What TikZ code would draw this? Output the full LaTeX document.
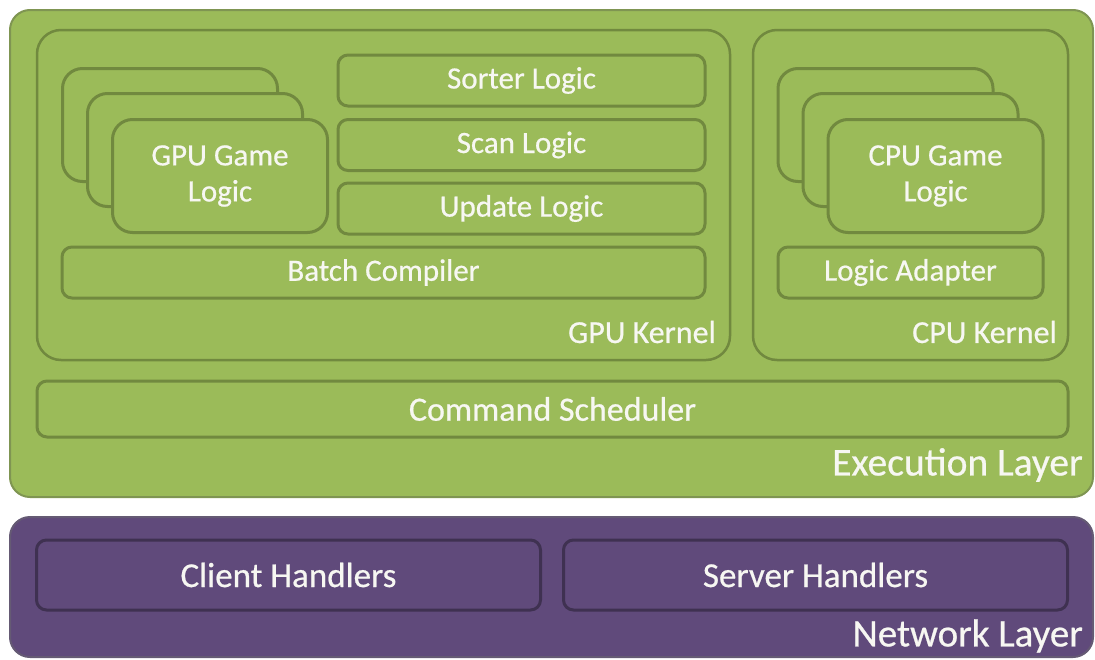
\documentclass[tikz,border=0pt]{standalone}
\usepackage{fontspec}
\setmainfont{Carlito}[FakeBold=0.6]
\usetikzlibrary{positioning}

\definecolor{execgreen}{HTML}{9BBB59}
\definecolor{execedge}{HTML}{71893F}
\definecolor{netpurple}{HTML}{604A7B}
\definecolor{netedge}{HTML}{3F3151}
\definecolor{labelwhite}{HTML}{F7F7F2}

\tikzset{
  layerbox/.style={rounded corners=20pt, line width=2pt, inner sep=0pt},
  kernelbox/.style={draw=execedge, line width=2.5pt, rounded corners=24pt, inner sep=0pt},
  unit/.style={draw=execedge, fill=execgreen, line width=3pt, rounded corners=10pt,
    inner sep=0pt, text=labelwhite, font=\fontsize{31}{36}\selectfont},
  gamebox/.style={unit, rounded corners=20pt, minimum width=215pt, minimum height=113pt, align=center},
  netunit/.style={unit, draw=netedge, fill=netpurple, minimum width=504pt, minimum height=70pt,
    font=\fontsize{35}{40}\selectfont},
  tag/.style={anchor=east, inner sep=0pt, text=labelwhite},
}

\begin{document}
\begin{tikzpicture}[x=1pt, y=-1pt]
\useasboundingbox (0,0) rectangle (1095,659);

% Execution layer
\node[layerbox, draw=execedge!90, fill=execgreen, minimum width=1083pt, minimum height=487pt] (exec) at (551.5,253.5) {};
\node[tag, font=\fontsize{39.5}{42}\selectfont] (execlbl) at (1083,465) {Execution Layer};

% GPU kernel
\node[kernelbox, minimum width=693pt, minimum height=330pt] (gpuk) at (383.5,195) {};
\node[tag, font=\fontsize{32}{36}\selectfont] (gpulbl) at (716,332) {GPU Kernel};
\node[gamebox] (gpuback) at (170,125) {};
\node[gamebox] (gpumid) at (195,150) {};
\node[gamebox] (gpugame) at (220,176) {GPU Game\\Logic};
\node[unit, minimum width=367pt, minimum height=51pt] (sorter) at (521.5,80.5) {Sorter Logic};
\node[unit, minimum width=367pt, minimum height=51pt] (scan) at (521.5,145) {Scan Logic};
\node[unit, minimum width=367pt, minimum height=51pt] (update) at (521.5,208.5) {Update Logic};
\node[unit, minimum width=643pt, minimum height=51pt] (batch) at (383.5,272.5) {Batch Compiler};

% CPU kernel
\node[kernelbox, minimum width=315pt, minimum height=330pt] (cpuk) at (910.5,195) {};
\node[tag, font=\fontsize{32}{36}\selectfont] (cpulbl) at (1057,332) {CPU Kernel};
\node[gamebox] (cpuback) at (885.5,125) {};
\node[gamebox] (cpumid) at (910.5,150) {};
\node[gamebox] (cpugame) at (935.5,176) {CPU Game\\Logic};
\node[unit, minimum width=265pt, minimum height=51pt] (adapter) at (910.5,272.5) {Logic Adapter};

% Scheduler
\node[unit, minimum width=1031pt, minimum height=56pt, font=\fontsize{34}{38}\selectfont] (sched) at (552.5,409) {Command Scheduler};

% Network layer
\node[layerbox, draw=netedge!80, fill=netpurple, minimum width=1083pt, minimum height=140pt] (net) at (551.5,587) {};
\node[tag, font=\fontsize{39}{42}\selectfont] (netlbl) at (1083,636) {Network Layer};
\node[netunit] (client) at (288.5,575) {Client Handlers};
\node[netunit] (server) at (815.5,575) {Server Handlers};
\end{tikzpicture}
\end{document}
